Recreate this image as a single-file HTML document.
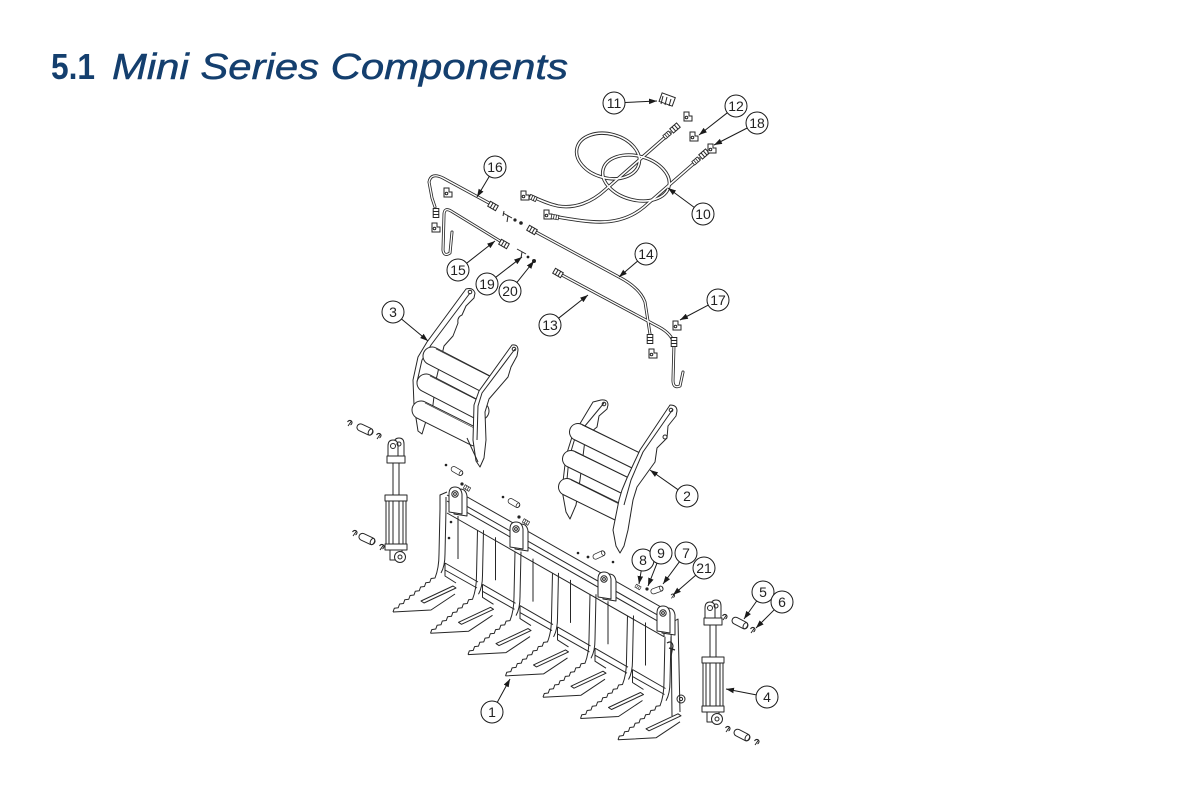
<!DOCTYPE html>
<html><head><meta charset="utf-8"><style>
html,body{margin:0;padding:0;background:#fff;}
svg{display:block}
</style></head><body>
<svg width="1200" height="800" viewBox="0 0 1200 800" xmlns="http://www.w3.org/2000/svg">
<defs>
<marker id="ah" viewBox="0 0 10 10" refX="10" refY="5" markerWidth="8" markerHeight="8" orient="auto" markerUnits="userSpaceOnUse"><path d="M0,1.5 L10,5 L0,8.5 z" fill="#1a1a1a"/></marker>
<path id="hA" d="M670,133 L605,190 C592,202 575,209 558,206 C548,204 540,200 531,196"/>
<path id="hB" d="M699,159 L644,207 C632,217 617,222 600,222 C585,222 570,219 552,216"/>
<ellipse id="L1" cx="608" cy="156" rx="32" ry="22" transform="rotate(15 608 156)"/>
<ellipse id="L2" cx="636" cy="178" rx="34" ry="22" transform="rotate(15 636 178)"/>
<path id="s16" d="M489,203 L443,178 Q431,172 429,182 L432,198 L435,207"/>
<path id="s15" d="M500,241 L451,211 Q444,207 444,215 L443,250 Q444,257 450,253 L452,232"/>
<path id="s14" d="M534,231 L619,277 Q640,288 645,302 L650,334"/>
<path id="s13" d="M560,274 L659,327 Q672,334 674,344 L673,380 Q673,389 680,386 L683,372"/>
<g id="nut"><rect x="-4.5" y="-2.8" width="9" height="5.6" fill="#fff"/><path d="M-1.5,-2.8 V2.8 M1.5,-2.8 V2.8"/></g>
<g id="elb"><path fill="#fff" d="M-3,-4 h5 v4 h3 v5 h-8 z"/><circle cx="-0.5" cy="1.5" r="1.3"/></g>
<g id="tnb">
<path d="M0,0 L1.3,-3.7 L5.25,-4.25 L6.6,-8 L10.5,-8.5 L11.8,-12.3 L15.75,-12.75 L17.1,-16.5 L21,-17 L22.3,-20.8 L26.25,-21.25 L27.6,-25 L31.5,-25.5 L32.8,-29.3 L36.75,-29.75 L38.1,-33.5 L42,-34 Q46,-44 46,-58 L47,-103"/>
<path d="M53,-103 L52,-58 Q52,-46 48,-39"/>
<path d="M0,0 L38,-2 L62,-18"/>
<path d="M28,-11 L60,-26 L63,-24 L31,-9 Z"/>
</g>
<g id="tng">
<path d="M52,-49 L85,-30 M52,-42 L84,-24 M52,-49 L52,-36 L63,-29"/>
<path d="M65,-96 L65,-53"/>
</g>
<g id="lug"><path fill="#fff" d="M-4,14 L-4,-4 Q-4,-11 2,-11 Q8,-11 9,-4 L9,16 Z"/><path fill="#fff" d="M-9,12 L-9,-6 Q-9,-13 -3,-13 Q3,-13 4,-6 L4,14 Z"/><circle cx="-3" cy="-6" r="3.2"/><circle cx="-3" cy="-6" r="1.4"/></g>
<g id="cyl">
<path fill="#fff" d="M-2,18 L-2,4 Q-2,-2 3,-2 Q8,-2 8,4 L8,18 Z"/>
<path fill="#fff" d="M-8,20 L-8,6 Q-8,0 -3,0 Q2,0 2,6 L2,20 Z"/>
<circle cx="-3" cy="6" r="2.5"/><circle cx="3" cy="4" r="2"/>
<rect x="-9" y="16" width="18" height="7" fill="#fff"/>
<rect x="-3" y="23" width="6" height="33" fill="#fff"/>
<rect x="-11" y="55" width="22" height="6" fill="#fff"/>
<rect x="-10" y="61" width="20" height="43" fill="#fff"/>
<path d="M-7,61 V104 M-3,61 V104 M3,61 V104 M7,61 V104"/>
<rect x="-11" y="104" width="22" height="6" fill="#fff"/>
<rect x="-6" y="110" width="12" height="10" fill="#fff"/>
<circle cx="4" cy="117" r="5.5" fill="#fff"/><circle cx="4" cy="117" r="2"/>
</g>
<g id="pin"><rect x="-8.5" y="-3.5" width="17" height="7" rx="3.5" fill="#fff"/><ellipse cx="6" cy="0" rx="2" ry="3.3"/></g>
<g id="clip"><path d="M-2.5,-1 Q-1,-3.5 1.5,-2 Q3,0 0.5,2 M1.5,-2 L-2,3"/></g>
</defs>

<!-- Title -->
<text x="51" y="79" font-family="Liberation Sans, sans-serif" font-weight="bold" font-size="36" fill="#143f6e" textLength="44" lengthAdjust="spacingAndGlyphs">5.1</text>
<text x="112" y="79" font-family="Liberation Sans, sans-serif" font-style="italic" font-size="36" fill="#143f6e" stroke="#143f6e" stroke-width="0.5" textLength="456" lengthAdjust="spacingAndGlyphs">Mini Series Components</text>

<!-- hydraulics -->
<g fill="none" stroke-linecap="round" stroke-linejoin="round">
<g stroke="#2a2a2a" stroke-width="3.4">
<use href="#L1"/><use href="#L2"/><use href="#hA"/><use href="#hB"/>
</g>
<g stroke="#fff" stroke-width="1.6">
<use href="#L1"/><use href="#L2"/><use href="#hA"/><use href="#hB"/>
</g>
<g stroke="#2a2a2a" stroke-width="3">
<use href="#s16"/><use href="#s15"/><use href="#s14"/><use href="#s13"/>
</g>
<g stroke="#fff" stroke-width="1.3">
<use href="#s16"/><use href="#s15"/><use href="#s14"/><use href="#s13"/>
</g>
</g>
<g fill="none" stroke="#262626" stroke-width="1">
<use href="#nut" transform="translate(675,128) rotate(-41)"/>
<use href="#nut" transform="translate(667,135) rotate(-41) scale(0.8)"/>
<use href="#nut" transform="translate(704,154) rotate(-41)"/>
<use href="#nut" transform="translate(696,161) rotate(-41) scale(0.8)"/>
<use href="#elb" transform="translate(524,195)"/>
<use href="#nut" transform="translate(533,198) rotate(25) scale(0.8)"/>
<use href="#elb" transform="translate(547,214)"/>
<use href="#nut" transform="translate(555,217) rotate(10) scale(0.8)"/>
<use href="#nut" transform="translate(493,206) rotate(30)"/>
<use href="#nut" transform="translate(504,244) rotate(30)"/>
<use href="#nut" transform="translate(532,230) rotate(30)"/>
<use href="#nut" transform="translate(558,273) rotate(30)"/>
<use href="#nut" transform="translate(650,339) rotate(90)"/>
<use href="#elb" transform="translate(652,353)"/>
<use href="#nut" transform="translate(674,342) rotate(90)"/>
<use href="#elb" transform="translate(676,325)"/>
<use href="#elb" transform="translate(447,192)"/>
<use href="#nut" transform="translate(436,213) rotate(90)"/>
<use href="#elb" transform="translate(435,227)"/>
<path d="M503,213 L512,218 M508,216 L507,222 M504,211 L503,216"/>
<path d="M517,249 L526,254 M522,252 L521,258"/>
<rect x="660" y="95" width="14" height="9" transform="rotate(20 667 100)" fill="#fff"/>
<path d="M663,96 L661,104 M667,97 L665,105 M671,99 L669,106"/>
<use href="#elb" transform="translate(687,116)"/>
<use href="#elb" transform="translate(693,136)"/>
<use href="#elb" transform="translate(711,148)"/>
</g>
<g fill="#222">
<circle cx="515" cy="220" r="1.6"/><circle cx="521" cy="223" r="1.8"/>
<circle cx="528" cy="257" r="1.4"/><circle cx="534" cy="261" r="2"/>
</g>

<!-- grapple 3 -->
<g fill="none" stroke="#262626" stroke-width="1" stroke-linejoin="round">
<path fill="#fff" d="M466,289 Q473,287 475,293 L474,298 L466,306 L462,315 Q457,317 458,323 L453,336 L444,346 L436,380 L432,413 L426,421 L422,434 L418,431 L414,405 L413,380 L418,357 L427,342 Z"/>
<path d="M470,293 L431,345 L422,360 L417,382"/>
<circle cx="470" cy="292" r="1.8"/>
<g stroke-linecap="round">
<line x1="432" y1="356" x2="486" y2="384" stroke="#262626" stroke-width="19"/>
<line x1="432" y1="356" x2="486" y2="384" stroke="#fff" stroke-width="17"/>
<line x1="426" y1="383" x2="480" y2="411" stroke="#262626" stroke-width="19"/>
<line x1="426" y1="383" x2="480" y2="411" stroke="#fff" stroke-width="17"/>
<line x1="421" y1="410" x2="475" y2="437" stroke="#262626" stroke-width="19"/>
<line x1="421" y1="410" x2="475" y2="437" stroke="#fff" stroke-width="17"/>
</g>
<path d="M436,349 L489,376 M430,376 L483,403 M425,403 L478,430" stroke-width="0.6"/>
<path fill="#fff" d="M512,345 Q518,344 518,350 L517,356 L511,367 L508,377 L489,399 L485,412 L486,440 L484,458 L480,467 L476,461 L473,440 L474,405 L479,391 Z"/>
<path d="M515,349 L482,393 L478,406 L477,440"/>
<path d="M467,438 L478,462"/>
<circle cx="514" cy="349" r="1.8"/>

<!-- grapple 2 -->
<path fill="#fff" d="M601,400 Q608,399 608,405 L607,409 L599,416 L597,427 L591,432 L585,440 L580,480 L576,505 L570,519 L566,512 L562,490 L566,456 L572,437 L593,402 Z"/>
<path d="M604,403 L575,438 L569,458 L566,490"/>
<circle cx="604" cy="404" r="1.8"/>
<g stroke-linecap="round">
<line x1="578" y1="432" x2="635" y2="460" stroke="#262626" stroke-width="18"/>
<line x1="578" y1="432" x2="635" y2="460" stroke="#fff" stroke-width="16"/>
<line x1="571" y1="459" x2="628" y2="487" stroke="#262626" stroke-width="18"/>
<line x1="571" y1="459" x2="628" y2="487" stroke="#fff" stroke-width="16"/>
<line x1="567" y1="487" x2="622" y2="514" stroke="#262626" stroke-width="18"/>
<line x1="567" y1="487" x2="622" y2="514" stroke="#fff" stroke-width="16"/>
</g>
<path d="M582,425 L638,452 M575,452 L631,479 M571,480 L625,507" stroke-width="0.6"/>
<path fill="#fff" d="M670,405 Q677,405 677,411 L676,416 L668,426 L667,438 L657,448 L655,462 L637,487 L633,500 L628,530 L624,546 L620,553 L616,546 L613,530 L619,500 L622,490 L627,478 L640,450 Z"/>
<path d="M673,409 L643,452 L631,480 L624,505"/>
<circle cx="671" cy="410" r="1.8"/><circle cx="665" cy="437" r="2"/>

<!-- left cylinder -->
<use href="#cyl" x="396" y="440"/>
<use href="#pin" transform="translate(365,429.5) rotate(25)"/>
<use href="#clip" transform="translate(350,423)"/>
<use href="#clip" transform="translate(379,436)"/>
<use href="#pin" transform="translate(367,539) rotate(25)"/>
<use href="#clip" transform="translate(355,533)"/>
<use href="#clip" transform="translate(382,547)"/>

<!-- right cylinder -->
<use href="#cyl" x="713" y="602"/>
<use href="#pin" transform="translate(740,623) rotate(27)"/>
<use href="#clip" transform="translate(725,617)"/>
<use href="#clip" transform="translate(753,630)"/>
<use href="#pin" transform="translate(742,735) rotate(27)"/>
<use href="#clip" transform="translate(728,729)"/>
<use href="#clip" transform="translate(757,742)"/>

<!-- frame -->
<path d="M455,490 L668,611"/>
<path d="M447,495 L664,618.7"/>
<path d="M447,501 L664,624.7"/>
<path d="M447,513 L664,636.7"/>
<use href="#tnb" x="393" y="612"/><use href="#tng" x="393" y="612"/>
<use href="#tnb" x="430.5" y="633.3"/><use href="#tng" x="430.5" y="633.3"/>
<use href="#tnb" x="468" y="654.6"/><use href="#tng" x="468" y="654.6"/>
<use href="#tnb" x="505.5" y="675.9"/><use href="#tng" x="505.5" y="675.9"/>
<use href="#tnb" x="543" y="697.2"/><use href="#tng" x="543" y="697.2"/>
<use href="#tnb" x="580.5" y="718.5"/><use href="#tng" x="580.5" y="718.5"/>
<use href="#tnb" x="618" y="739.8"/>
<path d="M440,509 L440,495 L447,492 M446,509 L446,497"/>
<path d="M664,637 L664,627 L678,619 L680,712 M671,623 L672,716"/>
<circle cx="681" cy="699" r="4"/><circle cx="681" cy="699" r="1.6"/>
<path d="M667,643 Q672,640 673,646 L671,656 M669,648 L675,650" stroke-width="1.2"/>
<circle cx="451" cy="522" r="0.8" fill="#222"/><circle cx="449" cy="538" r="0.8" fill="#222"/>
<use href="#lug" x="458" y="500"/>
<use href="#lug" x="519" y="535"/>
<use href="#lug" x="607" y="585"/>
<use href="#lug" x="666" y="619"/>

<!-- small pins/bolts -->
<use href="#pin" transform="translate(457,471) rotate(30) scale(0.75)"/>
<use href="#nut" transform="translate(467,488) rotate(30) scale(0.7)"/>
<use href="#pin" transform="translate(514,503) rotate(30) scale(0.75)"/>
<use href="#nut" transform="translate(526,522) rotate(30) scale(0.7)"/>
<use href="#pin" transform="translate(599,555) rotate(-25) scale(0.75)"/>
<use href="#nut" transform="translate(638,587) rotate(30) scale(0.6)"/>
<use href="#pin" transform="translate(657,590) rotate(-20) scale(0.75)"/>
<use href="#clip" transform="translate(673,596) scale(0.8)"/>
</g>
<g fill="#222">
<circle cx="446" cy="465" r="1.3"/><circle cx="462" cy="484" r="1.6"/>
<circle cx="503" cy="497" r="1.3"/><circle cx="519" cy="517" r="1.6"/>
<circle cx="578" cy="553" r="1.3"/><circle cx="588" cy="557" r="1.4"/><circle cx="613" cy="562" r="1.3"/>
<circle cx="647" cy="589" r="1.6"/>
</g>

<!-- callouts -->
<g stroke="#1a1a1a" stroke-width="1" fill="none">
<line x1="625" y1="102.5" x2="657" y2="101" marker-end="url(#ah)"/>
<line x1="727.3" y1="112.8" x2="699" y2="135" marker-end="url(#ah)"/>
<line x1="747.2" y1="128" x2="714" y2="145" marker-end="url(#ah)"/>
<line x1="489.3" y1="176.4" x2="477" y2="197" marker-end="url(#ah)"/>
<line x1="694.2" y1="207.4" x2="668" y2="188" marker-end="url(#ah)"/>
<line x1="466.7" y1="263.2" x2="495" y2="241" marker-end="url(#ah)"/>
<line x1="495.7" y1="277.3" x2="522" y2="257" marker-end="url(#ah)"/>
<line x1="516.9" y1="282.4" x2="534" y2="261" marker-end="url(#ah)"/>
<line x1="637.6" y1="261.1" x2="619" y2="277" marker-end="url(#ah)"/>
<line x1="708.3" y1="305.1" x2="680" y2="320" marker-end="url(#ah)"/>
<line x1="558.6" y1="318.2" x2="588" y2="295" marker-end="url(#ah)"/>
<line x1="401.5" y1="319" x2="428" y2="341" marker-end="url(#ah)"/>
<line x1="678" y1="489.7" x2="650" y2="470" marker-end="url(#ah)"/>
<line x1="641.2" y1="570.8" x2="639" y2="584" marker-end="url(#ah)"/>
<line x1="657" y1="563.2" x2="648" y2="586" marker-end="url(#ah)"/>
<line x1="679.4" y1="561.8" x2="663" y2="584" marker-end="url(#ah)"/>
<line x1="695.7" y1="575.2" x2="673" y2="595" marker-end="url(#ah)"/>
<line x1="756.7" y1="601" x2="744" y2="619" marker-end="url(#ah)"/>
<line x1="774.2" y1="609.8" x2="756" y2="628" marker-end="url(#ah)"/>
<line x1="756.2" y1="694.9" x2="726" y2="689" marker-end="url(#ah)"/>
<line x1="497.3" y1="702.3" x2="510" y2="679" marker-end="url(#ah)"/>
</g>
<g stroke="#1a1a1a" stroke-width="1" fill="#fff">
<circle cx="614" cy="103" r="11"/><circle cx="736" cy="106" r="11"/><circle cx="757" cy="123" r="11"/>
<circle cx="495" cy="167" r="11"/><circle cx="703" cy="214" r="11"/><circle cx="458" cy="270" r="11"/>
<circle cx="487" cy="284" r="11"/><circle cx="510" cy="291" r="11"/><circle cx="646" cy="254" r="11"/>
<circle cx="718" cy="300" r="11"/><circle cx="550" cy="325" r="11"/><circle cx="393" cy="312" r="11"/>
<circle cx="687" cy="496" r="11"/><circle cx="643" cy="560" r="11"/><circle cx="661" cy="553" r="11"/>
<circle cx="686" cy="553" r="11"/><circle cx="704" cy="568" r="11"/><circle cx="763" cy="592" r="11"/>
<circle cx="782" cy="602" r="11"/><circle cx="767" cy="697" r="11"/><circle cx="492" cy="712" r="11"/>
</g>
<g font-family="Liberation Sans, sans-serif" font-size="14" text-anchor="middle" fill="#222">
<text x="614" y="108">11</text><text x="736" y="111">12</text><text x="757" y="128">18</text>
<text x="495" y="172">16</text><text x="703" y="219">10</text><text x="458" y="275">15</text>
<text x="487" y="289">19</text><text x="510" y="296">20</text><text x="646" y="259">14</text>
<text x="718" y="305">17</text><text x="550" y="330">13</text><text x="393" y="317">3</text>
<text x="687" y="501">2</text><text x="643" y="565">8</text><text x="661" y="558">9</text>
<text x="686" y="558">7</text><text x="704" y="573">21</text><text x="763" y="597">5</text>
<text x="782" y="607">6</text><text x="767" y="702">4</text><text x="492" y="717">1</text>
</g>
</svg>
</body></html>
